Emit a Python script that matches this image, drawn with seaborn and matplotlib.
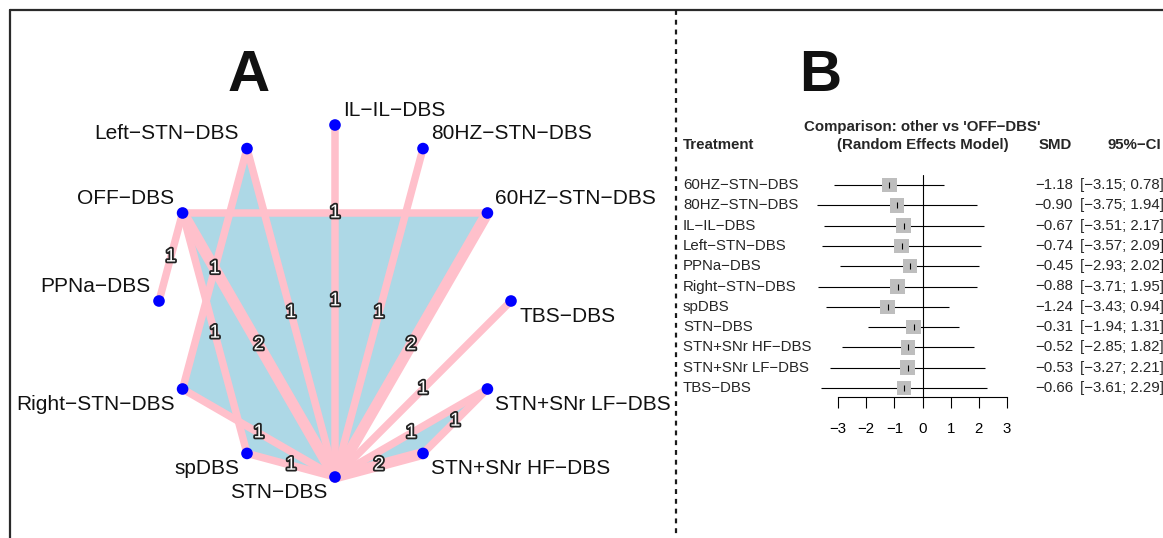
import numpy as np
import pandas as pd
import matplotlib
matplotlib.use("Agg")
import matplotlib.pyplot as plt
import matplotlib.patheffects as pe
import matplotlib.transforms as mtransforms
from matplotlib.lines import Line2D
from matplotlib.patches import Polygon
import seaborn as sns

# ---------------- data ----------------
# treatments in clockwise order around the network circle (starting at the top)
treatments = ["IL-IL-DBS", "80HZ-STN-DBS", "60HZ-STN-DBS", "TBS-DBS",
              "STN+SNr LF-DBS", "STN+SNr HF-DBS", "STN-DBS", "spDBS",
              "Right-STN-DBS", "PPNa-DBS", "OFF-DBS", "Left-STN-DBS"]

# direct comparisons and number of studies
edge_from = ["OFF-DBS", "OFF-DBS", "OFF-DBS", "OFF-DBS", "Left-STN-DBS",
             "Left-STN-DBS", "IL-IL-DBS", "80HZ-STN-DBS", "60HZ-STN-DBS",
             "TBS-DBS", "STN+SNr LF-DBS", "STN+SNr LF-DBS", "STN+SNr HF-DBS",
             "Right-STN-DBS", "spDBS"]
edge_to = ["PPNa-DBS", "60HZ-STN-DBS", "STN-DBS", "spDBS", "Right-STN-DBS",
           "STN-DBS", "STN-DBS", "STN-DBS", "STN-DBS",
           "STN-DBS", "STN-DBS", "STN+SNr HF-DBS", "STN-DBS",
           "STN-DBS", "STN-DBS"]
edge_studies = [1, 1, 2, 1, 1, 1, 1, 1, 2, 1, 1, 1, 2, 1, 1]

# multi-arm studies (shaded)
multiarm_studies = [
    ["OFF-DBS", "60HZ-STN-DBS", "STN-DBS"],
    ["Left-STN-DBS", "Right-STN-DBS", "STN-DBS"],
    ["OFF-DBS", "spDBS", "STN-DBS"],
    ["STN+SNr LF-DBS", "STN+SNr HF-DBS", "STN-DBS"],
]

# forest plot: other vs OFF-DBS, random effects model
forest_treatments = ["60HZ-STN-DBS", "80HZ-STN-DBS", "IL-IL-DBS", "Left-STN-DBS",
                     "PPNa-DBS", "Right-STN-DBS", "spDBS", "STN-DBS",
                     "STN+SNr HF-DBS", "STN+SNr LF-DBS", "TBS-DBS"]
smd = [-1.18, -0.90, -0.67, -0.74, -0.45, -0.88, -1.24, -0.31, -0.52, -0.53, -0.66]
ci_low = [-3.15, -3.75, -3.51, -3.57, -2.93, -3.71, -3.43, -1.94, -2.85, -3.27, -3.61]
ci_high = [0.78, 1.94, 2.17, 2.09, 2.02, 1.95, 0.94, 1.31, 1.82, 2.21, 2.29]
x_ticks = [-3, -2, -1, 0, 1, 2, 3]

# ---------------- style ----------------
sns.set_style("white")
plt.rcParams["font.family"] = ["Liberation Sans", "DejaVu Sans"]
MINUS = "\u2212"


def shown(s):
    return s.replace("-", MINUS)


W, H = 1163, 538
fig = plt.figure(figsize=(W / 100, H / 100), dpi=100)


def fx(px):
    return px / W


def fy(py):
    return 1 - py / H


# ---------------- panel A: network graph ----------------
axA = fig.add_axes([fx(10), 0, (676 - 10) / W, (538 - 10) / H])
R = 176.0
axA.set_xlim((10 - 335) / R, (676 - 335) / R)
axA.set_ylim((301 - 538) / R, (301 - 10) / R)
axA.axis("off")

angles = np.deg2rad(90 - 30 * np.arange(len(treatments)))
nodes = pd.DataFrame({"treatment": treatments,
                      "x": np.cos(angles), "y": np.sin(angles)})
pos = {t: (x, y) for t, x, y in zip(nodes.treatment, nodes.x, nodes.y)}

for study in multiarm_studies:
    axA.add_patch(Polygon([pos[t] for t in study], closed=True,
                          facecolor="#ADD8E6", edgecolor="none", zorder=1))

edges = pd.DataFrame({"a": edge_from, "b": edge_to, "n": edge_studies})
for _, e in edges.iterrows():
    (x0, y0), (x1, y1) = pos[e.a], pos[e.b]
    axA.plot([x0, x1], [y0, y1], color="#FFC0CB",
             lw=5.4 + 2.6 * (e.n - 1), solid_capstyle="round", zorder=2)

for _, e in edges.iterrows():
    (x0, y0), (x1, y1) = pos[e.a], pos[e.b]
    axA.text((x0 + x1) / 2, (y0 + y1) / 2, str(e.n), color="white",
             fontsize=13.5, ha="center", va="center", zorder=4,
             path_effects=[pe.withStroke(linewidth=2.6, foreground="#222222")])

sns.scatterplot(data=nodes, x="x", y="y", ax=axA, color="#0000FF", s=70,
                edgecolor="none", zorder=5, legend=False)
axA.set_xlabel("")
axA.set_ylabel("")

for _, r in nodes.iterrows():
    right = r.x > 1e-6 or (abs(r.x) <= 1e-6 and r.y > 0)
    above = r.y > 1e-6 or (abs(r.y) <= 1e-6 and r.x < 0)
    dx = 5.8 if right else -5.8
    dy = 10.8 if above else -10.8
    axA.annotate(shown(r.treatment), (r.x, r.y), xytext=(dx, dy),
                 textcoords="offset points", ha="left" if right else "right",
                 va="center", fontsize=15, color="#111111", zorder=6)

fig.text(fx(249), fy(91), "A", fontsize=42, fontweight="bold",
         ha="center", va="baseline", color="#111111")

# ---------------- panel B: forest plot ----------------
row_px0, row_step = 185.0, 20.3
axB = fig.add_axes([fx(838), fy(397), (1007 - 838) / W, (397 - 175) / H])
axB.set_xlim(-3, 3)
axB.set_ylim((397 - row_px0) / row_step, (175 - row_px0) / row_step)
sns.despine(ax=axB, left=True, top=True, right=True)
axB.spines["bottom"].set_linewidth(0.8)
axB.spines["bottom"].set_color("black")
axB.set_yticks([])
axB.set_xticks(x_ticks)
axB.set_xticklabels([str(t).replace("-", MINUS) for t in x_ticks])
axB.tick_params(axis="x", direction="out", length=8, width=0.8,
                pad=10, labelsize=10.8, colors="black", bottom=True)
axB.patch.set_alpha(0)

forest = pd.DataFrame({"treatment": forest_treatments, "smd": smd,
                       "lo": ci_low, "hi": ci_high})
forest["row"] = np.arange(len(forest))

axB.axvline(0, color="black", lw=0.8, zorder=1)
axB.hlines(forest.row, forest.lo, forest.hi, color="black", lw=0.8,
           clip_on=False, zorder=2)
sns.scatterplot(data=forest, x="smd", y="row", ax=axB, marker="s", s=110,
                color="#BEBEBE", edgecolor="none", zorder=3, legend=False,
                clip_on=False)
axB.scatter(forest.smd, forest.row, marker="|", s=14, color="black",
            linewidths=0.8, zorder=4, clip_on=False)
axB.set_xlabel("")
axB.set_ylabel("")

blend = mtransforms.blended_transform_factory(fig.transFigure, axB.transData)
fs = 10.8
for _, r in forest.iterrows():
    axB.text(fx(683), r.row, shown(r.treatment), transform=blend,
             ha="left", va="center", fontsize=fs, clip_on=False)
    axB.text(fx(1073), r.row, f"{r.smd:.2f}".replace("-", MINUS),
             transform=blend, ha="right", va="center", fontsize=fs, clip_on=False)
    ci = f"[{r.lo:.2f}; {r.hi:.2f}]".replace("-", MINUS)
    axB.text(fx(1080), r.row, ci, transform=blend, ha="left", va="center",
             fontsize=fs, clip_on=False)

hdr_row = (145 - row_px0) / row_step
ttl_row = (127 - row_px0) / row_step
axB.text(fx(683), hdr_row, "Treatment", transform=blend, ha="left",
         va="center", fontsize=fs, fontweight="bold", clip_on=False)
axB.text(fx(922), ttl_row, shown("Comparison: other vs 'OFF-DBS'"),
         transform=blend, ha="center", va="center", fontsize=fs,
         fontweight="bold", clip_on=False)
axB.text(fx(923), hdr_row, "(Random Effects Model)", transform=blend,
         ha="center", va="center", fontsize=fs, fontweight="bold", clip_on=False)
axB.text(fx(1055), hdr_row, "SMD", transform=blend, ha="center",
         va="center", fontsize=fs, fontweight="bold", clip_on=False)
axB.text(fx(1108), hdr_row, shown("95%-CI"), transform=blend, ha="left",
         va="center", fontsize=fs, fontweight="bold", clip_on=False)

fig.text(fx(820), fy(91), "B", fontsize=42, fontweight="bold",
         ha="center", va="baseline", color="#111111")

# ---------------- frame ----------------
frame_kw = dict(transform=fig.transFigure, color="#2a2a2a", lw=1.6)
fig.add_artist(Line2D([fx(10), fx(W + 5)], [fy(10), fy(10)], **frame_kw))
fig.add_artist(Line2D([fx(10), fx(10)], [fy(10), fy(H + 5)], **frame_kw))
fig.add_artist(Line2D([fx(676), fx(676)], [fy(10), fy(H + 5)],
                      transform=fig.transFigure, color="#1a1a1a", lw=1.6,
                      dashes=(2.2, 2.2)))

fig.savefig("out.png", dpi=100)
